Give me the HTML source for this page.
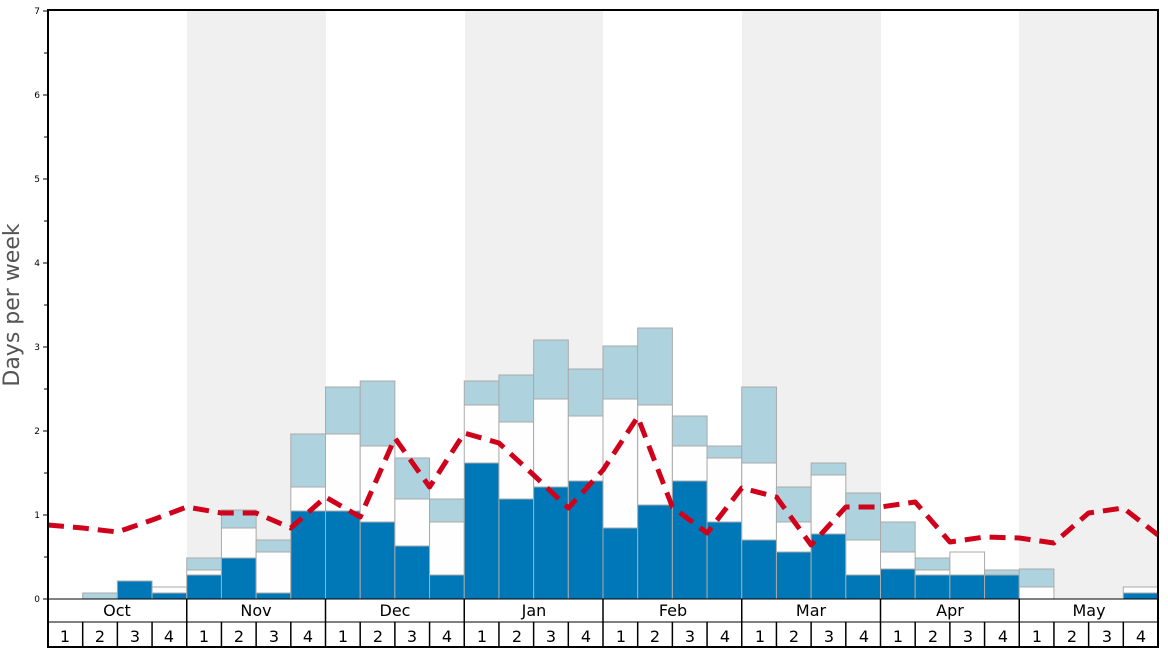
<!DOCTYPE html>
<html><head><meta charset="utf-8"><style>
html,body{margin:0;padding:0;background:#fff;}
svg{display:block;font-family:"DejaVu Sans","Liberation Sans",sans-serif;}
</style></head><body>
<svg id="s" width="1168" height="648" viewBox="0 0 1168 648" xmlns="http://www.w3.org/2000/svg">
<rect x="0" y="0" width="1168" height="648" fill="#fff"/>
<rect x="187" y="10" width="139" height="589" fill="#f0f0f0"/>
<rect x="465" y="10" width="138" height="589" fill="#f0f0f0"/>
<rect x="742" y="10" width="139" height="589" fill="#f0f0f0"/>
<rect x="1019" y="10" width="139" height="589" fill="#f0f0f0"/>
<g id="bars"></g>
<polyline id="line" fill="none" stroke="#d0021b" stroke-width="5" stroke-dasharray="16,9" stroke-linejoin="round"/>
<g stroke="#000" stroke-width="1">
<line x1="48" y1="599" x2="1158" y2="599"/>
<line x1="48" y1="622" x2="1158" y2="622"/>
</g>
<g id="grid" stroke="#000" stroke-width="1.5"></g>
<rect x="48" y="10" width="1110" height="637" fill="none" stroke="#000" stroke-width="2"/>
<g id="ticks" stroke="#000" stroke-width="1"></g>
<g font-size="9" text-anchor="end" fill="#000">
<text x="40" y="602">0</text><text x="40" y="518">1</text><text x="40" y="434">2</text><text x="40" y="350">3</text>
<text x="40" y="266">4</text><text x="40" y="182">5</text><text x="40" y="98">6</text><text x="40" y="14">7</text>
</g>
<text transform="translate(19,305) rotate(-90)" font-size="22" fill="#555" text-anchor="middle">Days per week</text>
<g font-size="16" text-anchor="middle" fill="#000">
<text x="117" y="616">Oct</text><text x="256" y="616">Nov</text><text x="395" y="616">Dec</text><text x="534" y="616">Jan</text>
<text x="673" y="616">Feb</text><text x="811" y="616">Mar</text><text x="950" y="616">Apr</text><text x="1089" y="616">May</text>
</g>
<g font-size="16" text-anchor="middle" fill="#000">
<text x="65" y="642">1</text><text x="100" y="642">2</text><text x="135" y="642">3</text><text x="169" y="642">4</text>
<text x="204" y="642">1</text><text x="239" y="642">2</text><text x="274" y="642">3</text><text x="308" y="642">4</text>
<text x="343" y="642">1</text><text x="378" y="642">2</text><text x="412" y="642">3</text><text x="447" y="642">4</text>
<text x="482" y="642">1</text><text x="517" y="642">2</text><text x="551" y="642">3</text><text x="586" y="642">4</text>
<text x="621" y="642">1</text><text x="655" y="642">2</text><text x="690" y="642">3</text><text x="725" y="642">4</text>
<text x="760" y="642">1</text><text x="794" y="642">2</text><text x="829" y="642">3</text><text x="864" y="642">4</text>
<text x="898" y="642">1</text><text x="933" y="642">2</text><text x="968" y="642">3</text><text x="1003" y="642">4</text>
<text x="1037" y="642">1</text><text x="1072" y="642">2</text><text x="1107" y="642">3</text><text x="1141" y="642">4</text>
</g>
</svg>
<script>
var NS="http://www.w3.org/2000/svg",W=34.6875,X0=48,B=599;
var d=[[0,0,0],[0,0,593],[581,0,0],[593,587,0],[575,570,558],[558,528,510],[593,552,540],[511,487,434],
[511,434,387],[522,446,381],[546,499,458],[575,522,499],[463,405,381],[499,422,375],[487,399,340],[481,416,369],
[528,399,346],[505,405,328],[481,446,416],[522,458,446],[540,463,387],[552,522,487],[534,475,463],[575,540,493],
[569,552,522],[575,570,558],[575,552,0],[575,0,570],[0,587,569],[0,0,0],[0,0,0],[593,587,0]];
var g=document.getElementById('bars');
function r(x,y1,y2,c){var e=document.createElementNS(NS,'rect');e.setAttribute('x',x);e.setAttribute('y',y1);e.setAttribute('width',W);e.setAttribute('height',y2-y1);e.setAttribute('fill',c);e.setAttribute('stroke','#aaa');e.setAttribute('stroke-width','1');g.appendChild(e);}
d.forEach(function(v,i){var x=X0+i*W,base=B;
if(v[0]){r(x,v[0],base,'#0077b6');base=v[0];}
if(v[1]){r(x,v[1],base,'#fefefe');base=v[1];}
if(v[2]){r(x,v[2],base,'#aed3df');}});
var ly=[525,528,532,520,507,513,513,528,497,517,438,487,433,443,475,508,470,417,507,533,488,497,545,507,507,502,542,537,538,543,513,508,535];
var pts=ly.map(function(y,i){return (X0+i*W).toFixed(1)+','+y;}).join(' ');
document.getElementById('line').setAttribute('points',pts);
var gr=document.getElementById('grid');
function L(p,x1,y1,x2,y2){var e=document.createElementNS(NS,'line');e.setAttribute('x1',x1);e.setAttribute('y1',y1);e.setAttribute('x2',x2);e.setAttribute('y2',y2);p.appendChild(e);}
for(var i=1;i<32;i++){var x=X0+i*W;L(gr,x,622,x,647);if(i%4==0)L(gr,x,599,x,622);}
var tk=document.getElementById('ticks');
for(var k=0;k<=14;k++){var y=599-k*42;L(tk,k%2?44:43,y,48,y);}
</script>
</body></html>
